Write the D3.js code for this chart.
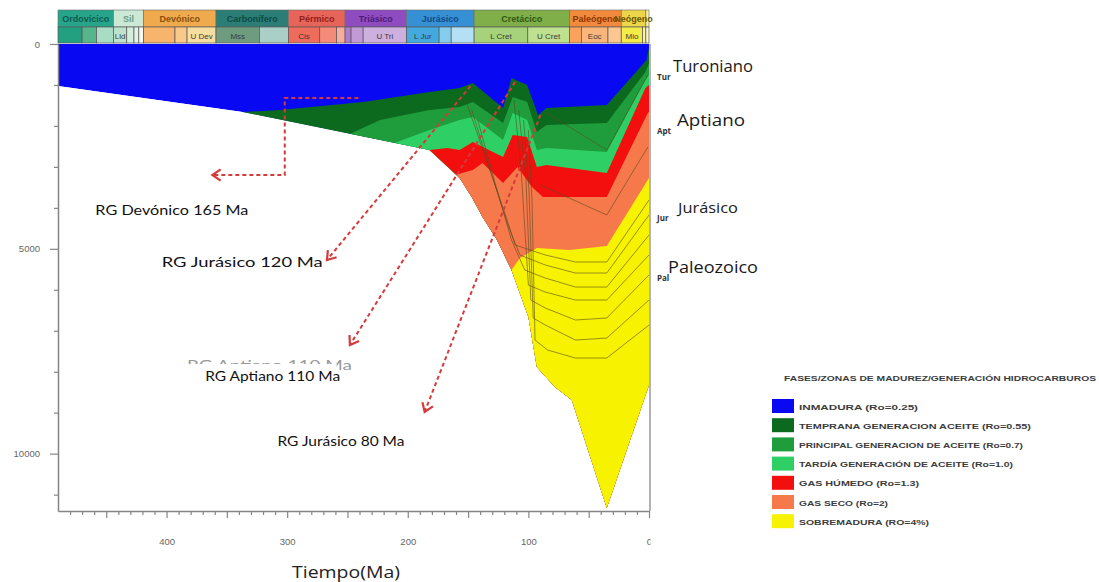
<!DOCTYPE html>
<html>
<head>
<meta charset="utf-8">
<script src="https://cdn.jsdelivr.net/npm/d3@7"></script>
<style>
  body { margin: 0; background: #fff; }
  svg { display: block; }
</style>
</head>
<body>
<svg id="chart" width="1099" height="582"></svg>
<script>
// ---- datos: escala geológica ----
const periodNames = ["Ordovícico", "Sil", "Devónico", "Carbonífero", "Pérmico", "Triásico", "Jurásico", "Cretácico", "Paleógeno", "Neógeno", ""];
const periodBounds = [490, 444, 419, 359, 299, 252, 201, 145, 66, 23, 2.6, 0];
const periodColors = ["#27a58b", "#cbe9d6", "#eeaa4c", "#2b7e76", "#e7645a", "#8f4bc0", "#3690d6", "#80af4a", "#f28a3e", "#eed64a", "#f7f1a0"];
const periodTextColors = ["#0c5b4e", "#6a9a80", "#8a5010", "#0f4a45", "#8f1f1a", "#4a1c78", "#134a86", "#2d5a12", "#8a3600", "#6a5800", "#666"];

const epochBounds = [490, 470, 458, 444, 433, 427, 423, 419, 393, 383, 359, 323, 299, 273, 259, 252, 247, 237, 201, 174, 164, 145, 100.5, 66, 56, 34, 23, 5.3, 2.6, 0];
const epochLabels = ["", "", "", "Lld", "", "", "", "", "", "U Dev", "Mss", "", "Cis", "", "", "", "", "U Tri", "L Jur", "", "", "L Cret", "U Cret", "", "Eoc", "", "Mio", "", ""];
const epochColors = ["#22a080", "#55b68c", "#a9dcc4", "#bde3cc", "#d3eedc", "#e2f3e8", "#f2faf4", "#f7b46c", "#f9c98a", "#f6dea0", "#6f9c7e", "#a9cfc6", "#ee6c5c", "#f68a78", "#f9ad9e", "#b07ccd", "#c29ad6", "#cdb0de", "#44a9de", "#86ccee", "#b4e0f5", "#a5d27a", "#bfe08e", "#f8a25c", "#f9b67c", "#fac790", "#f4ec48", "#f8f29a", "#fbf8c8"];

// ---- datos: historia de soterramiento [edad Ma, profundidad m] ----
const base = [[490, 1025], [337, 1660], [182, 2588], [157, 3271], [147, 3735], [138, 4224], [126, 4785], [114, 5518], [100, 6665], [93, 7886], [78, 8374], [64, 8691], [35, 11328], [0, 8325]];

// techo de cada zona de madurez (isolíneas de Ro)
const ro055 = [[337, 1660], [306, 1611], [237, 1416], [182, 1172], [157, 1074], [146, 952], [121, 1563], [114, 830], [101, 1001], [92, 1733], [85, 1563], [35, 1489], [2, 391], [0, 73]];
const ro07 = [[248, 2197], [223, 1855], [182, 1611], [157, 1538], [146, 1416], [121, 1929], [113, 1294], [101, 1416], [93, 2148], [85, 1978], [35, 1929], [3, 684], [0, 464]];
const ro10 = [[211, 2417], [182, 2100], [157, 1855], [146, 1782], [121, 2344], [113, 1685], [101, 1855], [93, 2588], [85, 2539], [35, 2637], [3, 879], [0, 757]];
const ro13 = [[182, 2588], [167, 2539], [157, 2588], [146, 2393], [121, 2759], [113, 2222], [101, 2271], [93, 3003], [85, 2954], [35, 3149], [3, 1074], [0, 1000]];
const ro20 = [[160, 3190], [146, 3076], [138, 2905], [121, 3394], [109, 3003], [97, 3491], [88, 3735], [35, 3735], [1, 1685], [0, 1660]];
const ro40 = [[114, 5518], [107, 5225], [93, 4980], [66, 5029], [35, 4931], [0, 3271]];

const zoneTops = [ro055, ro07, ro10, ro13, ro20, ro40];
const zoneNames = ["INMADURA (Ro=0.25)", "TEMPRANA  GENERACION ACEITE (Ro=0.55)", "PRINCIPAL GENERACION  DE ACEITE (Ro=0.7)", "TARDÍA GENERACIÓN  DE ACEITE (Ro=1.0)", "GAS HÚMEDO (Ro=1.3)", "GAS SECO (Ro=2)", "SOBREMADURA  (RO=4%)"];
const zoneColors = ["#0808f2", "#0b6a1e", "#1f9d3d", "#2ed066", "#f40f0f", "#f6794c", "#f6f200"];

// curvas de soterramiento de horizontes
const horizons = [
  [[152, 1367], [132, 3076], [119, 4175], [111, 4907], [86, 5151], [61, 5322], [35, 5322], [0, 3809]],
  [[147, 1611], [129, 3320], [117, 4419], [107, 5151], [86, 5395], [61, 5591], [35, 5591], [0, 4175]],
  [[142, 1855], [126, 3564], [114, 4785], [103, 5518], [86, 5713], [61, 5933], [35, 5933], [0, 4663]],
  [[112, 1367], [106, 3076], [100, 5884], [86, 6055], [61, 6250], [35, 6250], [0, 5151]],
  [[108, 1611], [102, 3320], [98, 6250], [86, 6445], [61, 6738], [35, 6689], [0, 5640]],
  [[104, 1855], [99.5, 3564], [96, 6689], [86, 6860], [61, 7227], [35, 7178], [0, 6250]],
  [[100, 2100], [97, 3809], [94.5, 7227], [84, 7471], [61, 7666], [35, 7666], [0, 6860]],
  [[86, 1660], [35, 2588], [1, 757]],
  [[90, 3442], [35, 4175], [1, 2515]]
];

// flechas y rocas generadoras
const arrows = [
  [[241, 1318], [302, 1318], [302, 3198], [362, 3198]],
  [[148, 1025], [267, 5273]],
  [[111, 928], [248, 7349]],
  [[90, 1733], [186, 8984]]
];
const rgLabels = ["RG Devónico 165 Ma", "RG Jurásico 120 Ma", "RG Aptiano 110 Ma", "RG Jurásico 80 Ma"];
const rgAges = [459, 404, 368, 308];
const rgDepths = [4175, 5444, 8227, 9814];

const horizonNames = ["Turoniano", "Aptiano", "Jurásico", "Paleozoico"];
const horizonAbbr = ["Tur", "Apt", "Jur", "Pal"];

const xMajor = [450, 400, 350, 300, 250, 200, 150, 100, 50, 0];
const xLabeled = [400, 300, 200, 100, 0];
const yMajor = [0, 5000, 10000];

// ---- escalas ----
const svg = d3.select("#chart");
const x = d3.scaleLinear().domain([490, 0]).range([58, 649]);
const y = d3.scaleLinear().domain([0, 11400]).range([44, 511]);
const pt = p => [x(p[0]), y(p[1])];

const defs = svg.append("defs");
const sediment = d3.area().x(d => x(d[0])).y0(y(0)).y1(d => y(d[1]));
defs.append("clipPath").attr("id", "sed").append("path").attr("d", sediment(base));
defs.append("clipPath").attr("id", "clip0").append("rect")
  .attr("x", -20).attr("y", 0).attr("width", 21).attr("height", 60);

// ---- columna estratigráfica ----
const strat = svg.append("g");
strat.selectAll("rect.per").data(periodNames).join("rect")
  .attr("class", "per")
  .attr("x", (d, i) => x(periodBounds[i]))
  .attr("width", (d, i) => x(periodBounds[i + 1]) - x(periodBounds[i]))
  .attr("y", 10).attr("height", 17)
  .attr("fill", (d, i) => periodColors[i])
  .attr("stroke", "#6a6a6a").attr("stroke-width", 0.6);
strat.selectAll("text.per").data(periodNames).join("text")
  .attr("class", "per")
  .attr("x", (d, i) => (x(periodBounds[i]) + x(periodBounds[i + 1])) / 2)
  .attr("y", 22)
  .attr("text-anchor", "middle")
  .attr("font-family", "Liberation Sans, Arial, sans-serif")
  .attr("font-size", 9).attr("font-weight", "bold")
  .attr("fill", (d, i) => periodTextColors[i])
  .text(d => d);

strat.selectAll("rect.ep").data(epochLabels).join("rect")
  .attr("class", "ep")
  .attr("x", (d, i) => x(epochBounds[i]))
  .attr("width", (d, i) => x(epochBounds[i + 1]) - x(epochBounds[i]))
  .attr("y", 27).attr("height", 16)
  .attr("fill", (d, i) => epochColors[i])
  .attr("stroke", "#555").attr("stroke-width", 0.7);
strat.selectAll("text.ep").data(epochLabels).join("text")
  .attr("class", "ep")
  .attr("x", (d, i) => (x(epochBounds[i]) + x(epochBounds[i + 1])) / 2)
  .attr("y", 38.5)
  .attr("text-anchor", "middle")
  .attr("font-family", "Liberation Sans, Arial, sans-serif")
  .attr("font-size", 8)
  .attr("fill", "#3a3a3a")
  .text(d => d);

// ---- zonas de madurez ----
const plot = svg.append("g").attr("clip-path", "url(#sed)");
plot.append("path").attr("d", sediment(base)).attr("fill", zoneColors[0]);

const zoneLine = d3.line();
plot.selectAll("path.zone").data(zoneTops).join("path")
  .attr("class", "zone")
  .attr("d", d => zoneLine(d.map(pt).concat([[x(0), y(11400) + 5], [x(d[0][0]), y(11400) + 5]])) + "Z")
  .attr("fill", (d, i) => zoneColors[i + 1]);

plot.selectAll("path.hz").data(horizons).join("path")
  .attr("class", "hz")
  .attr("d", d => zoneLine(d.map(pt)))
  .attr("fill", "none")
  .attr("stroke", "#5e4b1e").attr("stroke-width", 1).attr("stroke-opacity", 0.6);

// ---- ejes ----
const axisColor = "#858585";
svg.append("g").attr("transform", "translate(58,0)")
  .call(d3.axisLeft(y).tickValues(yMajor).tickSize(8).tickSizeOuter(0).tickPadding(10).tickFormat(d3.format("d")));
svg.append("g").attr("transform", "translate(58,0)")
  .call(d3.axisLeft(y).tickValues(d3.range(1000, 11400, 1000).filter(v => v % 5000)).tickSize(4).tickSizeOuter(0).tickFormat(""))
  .select(".domain").remove();

const xAx = svg.append("g").attr("transform", "translate(0,511)")
  .call(d3.axisBottom(x).tickValues(xMajor).tickSize(7).tickSizeOuter(0)
    .tickFormat(d => xLabeled.includes(d) ? d : ""));
svg.append("g").attr("transform", "translate(0,511)")
  .call(d3.axisBottom(x).tickValues(d3.range(480, 0, -10).filter(v => v % 50)).tickSize(4).tickSizeOuter(0).tickFormat(""))
  .select(".domain").remove();

svg.selectAll(".domain").attr("stroke", axisColor).attr("stroke-width", 1.5);
svg.selectAll(".tick line").attr("stroke", axisColor).attr("stroke-width", 1.2);
svg.selectAll(".tick text").attr("fill", "#666").attr("font-size", 9.5)
  .attr("font-family", "Liberation Sans, Arial, sans-serif");
xAx.selectAll(".tick text").attr("y", 27);
xAx.selectAll(".tick").filter(d => d === 0).select("text").attr("clip-path", "url(#clip0)");

svg.append("line")
  .attr("x1", x(0) + 1).attr("x2", x(0) + 1).attr("y1", y(0)).attr("y2", y(11400))
  .attr("stroke", "#9a9a9a").attr("stroke-width", 1.5);

svg.append("text")
  .attr("x", 292).attr("y", 578)
  .attr("textLength", 108).attr("lengthAdjust", "spacingAndGlyphs")
  .attr("font-family", "Open Sans, Arial, sans-serif").attr("font-size", 17)
  .attr("fill", "#222")
  .text("Tiempo(Ma)");

// ---- flechas RG ----
const red = "#d63a3a";
const ann = svg.append("g");
arrows.forEach(a => {
  const p = a.map(pt);
  ann.append("path").attr("d", d3.line()(p))
    .attr("fill", "none").attr("stroke", red).attr("stroke-width", 2)
    .attr("stroke-dasharray", "4,3");
  const [x1, y1] = p[p.length - 2], [x2, y2] = p[p.length - 1];
  const ang = Math.atan2(y2 - y1, x2 - x1);
  const h = 10, spread = 0.6;
  const head = [
    [x2 - h * Math.cos(ang - spread), y2 - h * Math.sin(ang - spread)],
    [x2, y2],
    [x2 - h * Math.cos(ang + spread), y2 - h * Math.sin(ang + spread)]
  ];
  ann.append("path").attr("d", d3.line()(head))
    .attr("fill", "none").attr("stroke", red).attr("stroke-width", 2.2);
});

// texto fantasma detrás de "RG Aptiano" (tapado casi entero)
ann.append("text")
  .attr("x", x(383)).attr("y", y(7959))
  .attr("textLength", 165).attr("lengthAdjust", "spacingAndGlyphs")
  .attr("font-family", "Lato, Arial, sans-serif").attr("font-size", 13)
  .attr("fill", "#9a9a9a").text("RG Aptiano 110 Ma");
ann.append("rect")
  .attr("x", x(385)).attr("y", y(7959) - 6).attr("width", 152).attr("height", 22)
  .attr("fill", "#fff");

const rgWidths = [153, 161, 135, 127];
ann.selectAll("text.rg").data(rgLabels).join("text")
  .attr("class", "rg")
  .attr("x", (d, i) => x(rgAges[i])).attr("y", (d, i) => y(rgDepths[i]))
  .attr("textLength", (d, i) => rgWidths[i]).attr("lengthAdjust", "spacingAndGlyphs")
  .attr("font-family", "Lato, Arial, sans-serif").attr("font-size", 13)
  .attr("fill", "#111")
  .text(d => d);

// ---- etiquetas de horizontes a la derecha ----
const hzY = [72, 126, 213, 273];
const hzSize = [17, 17, 15, 16];
const hzW = [80, 68, 60, 90];
const hzX = [673, 677, 678, 668];
const right = svg.append("g").attr("font-family", "Open Sans, Arial, sans-serif");
right.selectAll("text.ab").data(horizonAbbr).join("text")
  .attr("class", "ab")
  .attr("x", 657).attr("y", (d, i) => hzY[i] + 8)
  .attr("font-size", 8).attr("font-weight", "bold").attr("fill", "#333")
  .text(d => d);
right.selectAll("text.hn").data(horizonNames).join("text")
  .attr("class", "hn")
  .attr("x", (d, i) => hzX[i]).attr("y", (d, i) => hzY[i])
  .attr("font-size", (d, i) => hzSize[i])
  .attr("textLength", (d, i) => hzW[i]).attr("lengthAdjust", "spacingAndGlyphs")
  .attr("fill", "#1a1a1a")
  .text(d => d);

// ---- leyenda ----
const leg = svg.append("g").attr("font-family", "Liberation Sans, Arial, sans-serif")
  .attr("font-weight", "bold").attr("fill", "#3c3c3c");
leg.append("text").attr("x", 784).attr("y", 381)
  .attr("font-size", 7.5).attr("textLength", 312).attr("lengthAdjust", "spacingAndGlyphs")
  .text("FASES/ZONAS DE MADUREZ/GENERACIÓN  HIDROCARBUROS");
const legW = [119, 232, 224, 214, 120, 89, 130];
leg.selectAll("rect").data(zoneNames).join("rect")
  .attr("x", 772).attr("y", (d, i) => 399 + i * 19.2)
  .attr("width", 22).attr("height", 14)
  .attr("fill", (d, i) => zoneColors[i]);
leg.selectAll("text.lg").data(zoneNames).join("text")
  .attr("class", "lg")
  .attr("x", 799).attr("y", (d, i) => 409.5 + i * 19.2)
  .attr("font-size", 7.2)
  .attr("textLength", (d, i) => legW[i]).attr("lengthAdjust", "spacingAndGlyphs")
  .text(d => d);
</script>
</body>
</html>
